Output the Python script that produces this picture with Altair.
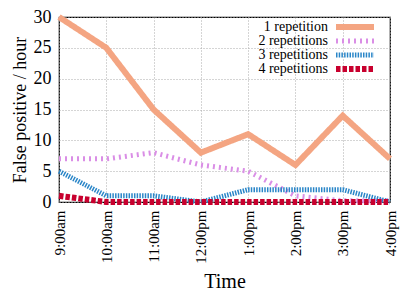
import altair as alt
import pandas as pd

times = ["9:00am", "10:00am", "11:00am", "12:00pm", "1:00pm", "2:00pm", "3:00pm", "4:00pm"]
series = ["1 repetition", "2 repetitions", "3 repetitions", "4 repetitions"]
rep1 = [30, 25, 15, 8, 11, 6, 14, 7]
rep2 = [7, 7, 8, 6, 5, 1, 0.2, 0.2]
rep3 = [5, 1, 1, 0, 2, 2, 2, 0]
rep4 = [1, 0, 0, 0, 0, 0, 0, 0]
colors = ["#F4A582", "#DA8EE6", "#2A86C8", "#C8002E"]
widths = [6, 5, 5, 6]
dashes = [[1, 0], [2, 4], [1.5, 1.2], [4.5, 2]]

rows = []
for name, vals in zip(series, [rep1, rep2, rep3, rep4]):
    for t, v in zip(times, vals):
        rows.append({"time": t, "value": v, "series": name})
df = pd.DataFrame(rows)

FONT = "Liberation Serif"
W, H = 331, 185

x = alt.X("time:N", sort=times, scale=alt.Scale(type="point", domain=times, padding=0),
          axis=alt.Axis(title="Time", labelAngle=-90, labelFontSize=15, titleFontSize=20,
                        labelFont=FONT, titleFont=FONT, titleFontWeight="normal",
                        grid=True, gridDash=[1, 2], gridColor="#aaaaaa", ticks=False,
                        labelPadding=8, titlePadding=8, domain=False, labelColor="black",
                        titleColor="black", labelBaseline="middle", labelAlign="right"))
y = alt.Y("value:Q", scale=alt.Scale(domain=[0, 30], nice=False),
          axis=alt.Axis(title="False positive / hour", values=[0, 5, 10, 15, 20, 25, 30],
                        labelFontSize=18, titleFontSize=18, labelFont=FONT, titleFont=FONT,
                        titleFontWeight="normal", grid=True, gridDash=[1, 2],
                        gridColor="#aaaaaa", ticks=False, labelPadding=8, titlePadding=4,
                        domain=False, labelColor="black", titleColor="black"))

layers = []
for i, name in enumerate(series):
    sub = df[df.series == name]
    layers.append(
        alt.Chart(sub).mark_line(color=colors[i], strokeWidth=widths[i],
                                 strokeDash=dashes[i], strokeCap="butt", clip=False)
        .encode(x=x, y=y)
    )

# manual legend (labels left of samples)
for i, name in enumerate(series):
    yy = 10 + i * 14
    ldf = pd.DataFrame({"label": [name]})
    layers.append(
        alt.Chart(ldf).mark_text(align="right", baseline="middle", font=FONT,
                                 fontSize=14, color="black")
        .encode(text="label:N", x=alt.value(269), y=alt.value(yy))
    )
    layers.append(
        alt.Chart(ldf).mark_rule(color=colors[i], strokeWidth=widths[i],
                                 strokeDash=dashes[i], strokeCap="butt")
        .encode(x=alt.value(277), x2=alt.value(315), y=alt.value(yy))
    )

chart = alt.layer(*layers).properties(
    width=W, height=H, autosize="none",
    padding={"left": 51, "top": 9, "right": 17, "bottom": 89},
).configure_view(stroke="black", strokeWidth=1.2)

chart.save("out.html", embed_options={"renderer": "svg", "actions": False})
